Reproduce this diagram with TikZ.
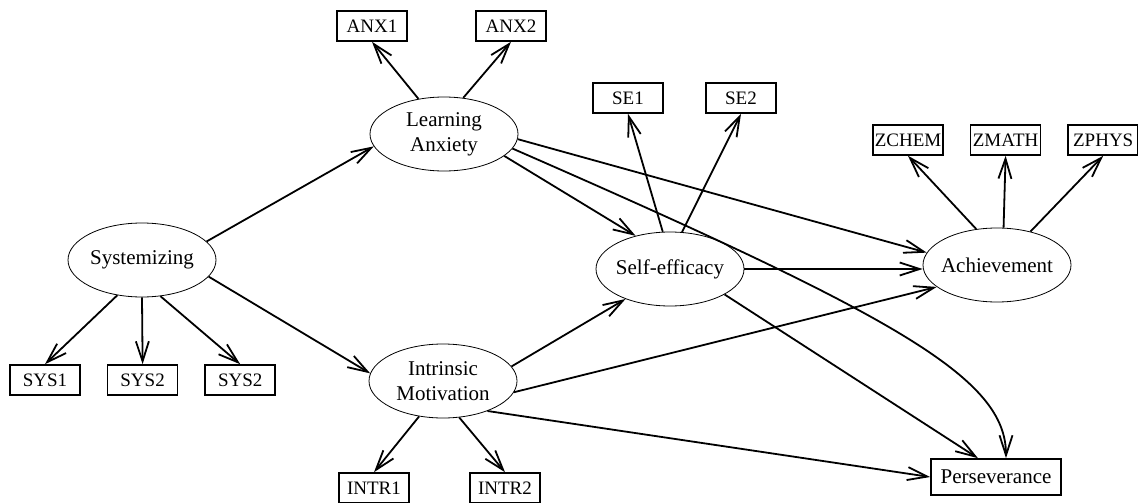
\documentclass[tikz,border=0pt]{standalone}
\usepackage{fontspec}
\setmainfont{Liberation Serif}
\usetikzlibrary{shapes.geometric, arrows.meta, positioning}

\begin{document}
\begin{tikzpicture}[
      x=1pt, y=-1pt, % one unit per pixel, y runs downwards
      node distance=26pt,
      >={Straight Barb[length=20pt,width=13pt]},
      latent/.style={
        ellipse,
        draw,
        line width=0.8pt,
        align=center,
        inner xsep=-6pt, % keeps wide labels inside the fixed ellipse
        inner ysep=0pt,
        minimum width=148pt,
        minimum height=74pt,
        font=\fontsize{21}{25}\selectfont
      },
      indic/.style={
        rectangle,
        draw,
        line width=1.6pt,
        inner sep=1pt,
        minimum width=70pt,
        minimum height=30pt,
        font=\fontsize{19}{22}\selectfont
      },
      link/.style={->, line width=1.8pt}
    ]
    \useasboundingbox (0,0) rectangle (1138,503);

    % latent variables
    \node[latent] (sys) at (142,260) {Systemizing};
    \node[latent] (la) at (444,134) {Learning\\Anxiety};
    \node[latent] (im) at (443,381) {Intrinsic\\Motivation};
    \node[latent] (se) at (670,269) {Self-efficacy};
    \node[latent] (ach) at (997,265) {Achievement};
    \node[indic, minimum width=130pt, minimum height=36pt,
          font=\fontsize{21}{25}\selectfont] (pers) at (996,477) {Perseverance};

    % indicators
    \node[indic] (sys1) at (45,380) {SYS1};
    \node[indic, right=of sys1] (sys2) {SYS2};
    \node[indic, right=of sys2] (sys3) {SYS2};
    \node[indic] (anx1) at (372,26) {ANX1};
    \node[indic] (anx2) at (511,26) {ANX2};
    \node[indic] (intr1) at (374,488) {INTR1};
    \node[indic] (intr2) at (505,488) {INTR2};
    \node[indic] (se1) at (628,98) {SE1};
    \node[indic] (se2) at (741,98) {SE2};
    \node[indic] (zchem) at (908,140) {ZCHEM};
    \node[indic, right=of zchem] (zmath) {ZMATH};
    \node[indic, right=of zmath] (zphys) {ZPHYS};

    % measurement arrows
    \draw[link] (sys.-125) -- (sys1.north);
    \draw[link] (sys.south) -- (sys2.north);
    \draw[link] (sys.-63) -- (sys3.north);
    \draw[link] (la.126) -- (anx1.south);
    \draw[link] (la.62) -- (anx2.south);
    \draw[link] (im.-124) -- (intr1.north);
    \draw[link] (im.-66) -- (intr2.north);
    \draw[link] (se.101) -- (se1.south);
    \draw[link] (se.72) -- (se2.south);
    \draw[link] (ach.120) -- (zchem.south);
    \draw[link] (ach.80) -- (zmath.south);
    \draw[link] (ach.45) -- (zphys.south);

    % structural paths
    \draw[link] (sys.16) -- (la.-170);
    \draw[link] (sys.-14) -- (im.174);
    \draw[link] (la.-20) -- (se.136);
    \draw[link] (la.-4) -- (ach.170);
    \draw[link] (la.-12) .. controls +(387,169) and +(0,-80) .. ([xshift=10pt]pers.north);
    \draw[link] (im.12) -- (se.-146);
    \draw[link] (im.-9) -- (ach.-160);
    \draw[link] (im.-34) -- (pers.west);
    \draw[link] (se.east) -- (ach.west |- se.east);
    \draw[link] (se.-25) -- ([xshift=-18pt]pers.north);
  \end{tikzpicture}
\end{document}
